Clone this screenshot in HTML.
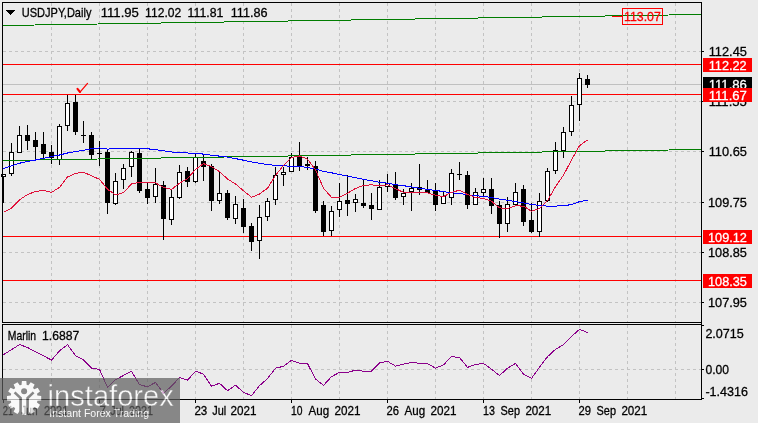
<!DOCTYPE html>
<html lang="en"><head><meta charset="utf-8"><title>USDJPY Daily</title>
<style>html,body{margin:0;padding:0;background:#ebebeb}body{width:758px;height:423px;overflow:hidden}svg{display:block}text{font-family:"Liberation Sans",Arial,sans-serif;font-size:13px;fill:#000;stroke:#000;stroke-width:.3px}text.w{fill:#fff;stroke:#fff}text.r{fill:#f00;stroke:#f00}text.n{stroke:none}</style></head><body>
<svg width="758" height="423" viewBox="0 0 758 423">
<rect width="758" height="423" fill="#ebebeb"/>
<g shape-rendering="crispEdges" stroke="#c3c3c3" stroke-width="1" stroke-dasharray="3 3" fill="none">
<path d="M51.5 3V322M51.5 325V399"/>
<path d="M99.5 3V322M99.5 325V399"/>
<path d="M147.5 3V322M147.5 325V399"/>
<path d="M195.5 3V322M195.5 325V399"/>
<path d="M243.5 3V322M243.5 325V399"/>
<path d="M291.5 3V322M291.5 325V399"/>
<path d="M339.5 3V322M339.5 325V399"/>
<path d="M387.5 3V322M387.5 325V399"/>
<path d="M435.5 3V322M435.5 325V399"/>
<path d="M483.5 3V322M483.5 325V399"/>
<path d="M531.5 3V322M531.5 325V399"/>
<path d="M579.5 3V322M579.5 325V399"/>
<path d="M627.5 3V322M627.5 325V399"/>
<path d="M675.5 3V322M675.5 325V399"/>
<path d="M3 51.5H701"/>
<path d="M3 101.5H701"/>
<path d="M3 151.5H701"/>
<path d="M3 202.5H701"/>
<path d="M3 252.5H701"/>
<path d="M3 302.5H701"/>
<path d="M3 369.5H701"/>
</g>
<g shape-rendering="crispEdges">
<rect x="3" y="84" width="698" height="1" fill="#c0c0c0"/>
</g>
<g shape-rendering="crispEdges">
<rect x="3" y="64" width="698" height="1" fill="#ff0000"/>
<rect x="3" y="94" width="698" height="1" fill="#ff0000"/>
<rect x="3" y="236" width="698" height="1" fill="#ff0000"/>
<rect x="3" y="280" width="698" height="1" fill="#ff0000"/>
<rect x="3" y="174" width="1" height="29" fill="#000"/>
<rect x="1" y="174" width="5" height="3" fill="#000"/>
<rect x="2" y="175" width="3" height="1" fill="#fff"/>
<rect x="11" y="143" width="1" height="33" fill="#000"/>
<rect x="9" y="152" width="5" height="22" fill="#000"/>
<rect x="10" y="153" width="3" height="20" fill="#fff"/>
<rect x="19" y="126" width="1" height="27" fill="#000"/>
<rect x="17" y="135" width="5" height="18" fill="#000"/>
<rect x="18" y="136" width="3" height="16" fill="#fff"/>
<rect x="27" y="125" width="1" height="25" fill="#000"/>
<rect x="25" y="135" width="5" height="6" fill="#000"/>
<rect x="35" y="132" width="1" height="28" fill="#000"/>
<rect x="33" y="140" width="5" height="7" fill="#000"/>
<rect x="43" y="132" width="1" height="27" fill="#000"/>
<rect x="41" y="144" width="5" height="10" fill="#000"/>
<rect x="51" y="145" width="1" height="19" fill="#000"/>
<rect x="49" y="152" width="5" height="6" fill="#000"/>
<rect x="59" y="124" width="1" height="41" fill="#000"/>
<rect x="57" y="126" width="5" height="34" fill="#000"/>
<rect x="58" y="127" width="3" height="32" fill="#fff"/>
<rect x="67" y="95" width="1" height="36" fill="#000"/>
<rect x="65" y="103" width="5" height="23" fill="#000"/>
<rect x="66" y="104" width="3" height="21" fill="#fff"/>
<rect x="75" y="95" width="1" height="40" fill="#000"/>
<rect x="73" y="102" width="5" height="30" fill="#000"/>
<rect x="83" y="121" width="1" height="22" fill="#000"/>
<rect x="81" y="135" width="5" height="1" fill="#000"/>
<rect x="91" y="132" width="1" height="27" fill="#000"/>
<rect x="89" y="135" width="5" height="20" fill="#000"/>
<rect x="99" y="141" width="1" height="25" fill="#000"/>
<rect x="97" y="153" width="5" height="1" fill="#000"/>
<rect x="107" y="149" width="1" height="65" fill="#000"/>
<rect x="105" y="152" width="5" height="51" fill="#000"/>
<rect x="115" y="173" width="1" height="32" fill="#000"/>
<rect x="113" y="181" width="5" height="23" fill="#000"/>
<rect x="114" y="182" width="3" height="21" fill="#fff"/>
<rect x="123" y="164" width="1" height="25" fill="#000"/>
<rect x="121" y="168" width="5" height="12" fill="#000"/>
<rect x="122" y="169" width="3" height="10" fill="#fff"/>
<rect x="131" y="151" width="1" height="26" fill="#000"/>
<rect x="129" y="152" width="5" height="15" fill="#000"/>
<rect x="130" y="153" width="3" height="13" fill="#fff"/>
<rect x="139" y="149" width="1" height="44" fill="#000"/>
<rect x="137" y="153" width="5" height="38" fill="#000"/>
<rect x="147" y="182" width="1" height="22" fill="#000"/>
<rect x="145" y="189" width="5" height="9" fill="#000"/>
<rect x="155" y="168" width="1" height="35" fill="#000"/>
<rect x="153" y="184" width="5" height="13" fill="#000"/>
<rect x="154" y="185" width="3" height="11" fill="#fff"/>
<rect x="163" y="181" width="1" height="59" fill="#000"/>
<rect x="161" y="185" width="5" height="34" fill="#000"/>
<rect x="171" y="190" width="1" height="35" fill="#000"/>
<rect x="169" y="197" width="5" height="23" fill="#000"/>
<rect x="170" y="198" width="3" height="21" fill="#fff"/>
<rect x="179" y="165" width="1" height="34" fill="#000"/>
<rect x="177" y="172" width="5" height="26" fill="#000"/>
<rect x="178" y="173" width="3" height="24" fill="#fff"/>
<rect x="187" y="167" width="1" height="20" fill="#000"/>
<rect x="185" y="171" width="5" height="11" fill="#000"/>
<rect x="195" y="154" width="1" height="29" fill="#000"/>
<rect x="193" y="157" width="5" height="25" fill="#000"/>
<rect x="194" y="158" width="3" height="23" fill="#fff"/>
<rect x="203" y="155" width="1" height="26" fill="#000"/>
<rect x="201" y="161" width="5" height="6" fill="#000"/>
<rect x="211" y="164" width="1" height="47" fill="#000"/>
<rect x="209" y="166" width="5" height="35" fill="#000"/>
<rect x="219" y="172" width="1" height="32" fill="#000"/>
<rect x="217" y="193" width="5" height="8" fill="#000"/>
<rect x="218" y="194" width="3" height="6" fill="#fff"/>
<rect x="227" y="190" width="1" height="30" fill="#000"/>
<rect x="225" y="193" width="5" height="25" fill="#000"/>
<rect x="235" y="196" width="1" height="28" fill="#000"/>
<rect x="233" y="204" width="5" height="15" fill="#000"/>
<rect x="234" y="205" width="3" height="13" fill="#fff"/>
<rect x="243" y="199" width="1" height="34" fill="#000"/>
<rect x="241" y="208" width="5" height="19" fill="#000"/>
<rect x="251" y="223" width="1" height="28" fill="#000"/>
<rect x="249" y="226" width="5" height="16" fill="#000"/>
<rect x="259" y="205" width="1" height="54" fill="#000"/>
<rect x="257" y="217" width="5" height="24" fill="#000"/>
<rect x="258" y="218" width="3" height="22" fill="#fff"/>
<rect x="267" y="198" width="1" height="23" fill="#000"/>
<rect x="265" y="201" width="5" height="16" fill="#000"/>
<rect x="266" y="202" width="3" height="14" fill="#fff"/>
<rect x="275" y="167" width="1" height="38" fill="#000"/>
<rect x="273" y="175" width="5" height="25" fill="#000"/>
<rect x="274" y="176" width="3" height="23" fill="#fff"/>
<rect x="283" y="167" width="1" height="19" fill="#000"/>
<rect x="281" y="172" width="5" height="3" fill="#000"/>
<rect x="282" y="173" width="3" height="1" fill="#fff"/>
<rect x="291" y="153" width="1" height="19" fill="#000"/>
<rect x="289" y="157" width="5" height="15" fill="#000"/>
<rect x="290" y="158" width="3" height="13" fill="#fff"/>
<rect x="299" y="142" width="1" height="29" fill="#000"/>
<rect x="297" y="157" width="5" height="9" fill="#000"/>
<rect x="307" y="157" width="1" height="13" fill="#000"/>
<rect x="305" y="164" width="5" height="2" fill="#000"/>
<rect x="315" y="161" width="1" height="52" fill="#000"/>
<rect x="313" y="166" width="5" height="45" fill="#000"/>
<rect x="323" y="201" width="1" height="35" fill="#000"/>
<rect x="321" y="205" width="5" height="27" fill="#000"/>
<rect x="331" y="206" width="1" height="30" fill="#000"/>
<rect x="329" y="211" width="5" height="20" fill="#000"/>
<rect x="330" y="212" width="3" height="18" fill="#fff"/>
<rect x="339" y="183" width="1" height="34" fill="#000"/>
<rect x="337" y="201" width="5" height="9" fill="#000"/>
<rect x="338" y="202" width="3" height="7" fill="#fff"/>
<rect x="347" y="175" width="1" height="41" fill="#000"/>
<rect x="345" y="200" width="5" height="4" fill="#000"/>
<rect x="355" y="194" width="1" height="18" fill="#000"/>
<rect x="353" y="199" width="5" height="4" fill="#000"/>
<rect x="354" y="200" width="3" height="2" fill="#fff"/>
<rect x="363" y="179" width="1" height="29" fill="#000"/>
<rect x="361" y="203" width="5" height="3" fill="#000"/>
<rect x="371" y="193" width="1" height="27" fill="#000"/>
<rect x="369" y="205" width="5" height="4" fill="#000"/>
<rect x="379" y="180" width="1" height="30" fill="#000"/>
<rect x="377" y="187" width="5" height="23" fill="#000"/>
<rect x="378" y="188" width="3" height="21" fill="#fff"/>
<rect x="387" y="174" width="1" height="18" fill="#000"/>
<rect x="385" y="183" width="5" height="4" fill="#000"/>
<rect x="386" y="184" width="3" height="2" fill="#fff"/>
<rect x="395" y="172" width="1" height="28" fill="#000"/>
<rect x="393" y="184" width="5" height="14" fill="#000"/>
<rect x="403" y="189" width="1" height="16" fill="#000"/>
<rect x="401" y="193" width="5" height="4" fill="#000"/>
<rect x="402" y="194" width="3" height="2" fill="#fff"/>
<rect x="411" y="183" width="1" height="28" fill="#000"/>
<rect x="409" y="188" width="5" height="4" fill="#000"/>
<rect x="410" y="189" width="3" height="2" fill="#fff"/>
<rect x="419" y="164" width="1" height="31" fill="#000"/>
<rect x="417" y="187" width="5" height="3" fill="#000"/>
<rect x="427" y="180" width="1" height="13" fill="#000"/>
<rect x="425" y="189" width="5" height="4" fill="#000"/>
<rect x="435" y="183" width="1" height="28" fill="#000"/>
<rect x="433" y="191" width="5" height="14" fill="#000"/>
<rect x="443" y="191" width="1" height="13" fill="#000"/>
<rect x="441" y="196" width="5" height="8" fill="#000"/>
<rect x="442" y="197" width="3" height="6" fill="#fff"/>
<rect x="451" y="169" width="1" height="36" fill="#000"/>
<rect x="449" y="173" width="5" height="25" fill="#000"/>
<rect x="450" y="174" width="3" height="23" fill="#fff"/>
<rect x="459" y="162" width="1" height="18" fill="#000"/>
<rect x="457" y="174" width="5" height="1" fill="#000"/>
<rect x="467" y="171" width="1" height="38" fill="#000"/>
<rect x="465" y="175" width="5" height="30" fill="#000"/>
<rect x="475" y="188" width="1" height="17" fill="#000"/>
<rect x="473" y="192" width="5" height="13" fill="#000"/>
<rect x="474" y="193" width="3" height="11" fill="#fff"/>
<rect x="483" y="178" width="1" height="19" fill="#000"/>
<rect x="481" y="189" width="5" height="4" fill="#000"/>
<rect x="482" y="190" width="3" height="2" fill="#fff"/>
<rect x="491" y="178" width="1" height="36" fill="#000"/>
<rect x="489" y="189" width="5" height="17" fill="#000"/>
<rect x="499" y="201" width="1" height="37" fill="#000"/>
<rect x="497" y="205" width="5" height="19" fill="#000"/>
<rect x="507" y="197" width="1" height="35" fill="#000"/>
<rect x="505" y="204" width="5" height="20" fill="#000"/>
<rect x="506" y="205" width="3" height="18" fill="#fff"/>
<rect x="515" y="183" width="1" height="22" fill="#000"/>
<rect x="513" y="192" width="5" height="13" fill="#000"/>
<rect x="514" y="193" width="3" height="11" fill="#fff"/>
<rect x="523" y="185" width="1" height="41" fill="#000"/>
<rect x="521" y="189" width="5" height="33" fill="#000"/>
<rect x="531" y="203" width="1" height="30" fill="#000"/>
<rect x="529" y="220" width="5" height="12" fill="#000"/>
<rect x="539" y="193" width="1" height="44" fill="#000"/>
<rect x="537" y="201" width="5" height="31" fill="#000"/>
<rect x="538" y="202" width="3" height="29" fill="#fff"/>
<rect x="547" y="168" width="1" height="34" fill="#000"/>
<rect x="545" y="171" width="5" height="30" fill="#000"/>
<rect x="546" y="172" width="3" height="28" fill="#fff"/>
<rect x="555" y="142" width="1" height="32" fill="#000"/>
<rect x="553" y="150" width="5" height="21" fill="#000"/>
<rect x="554" y="151" width="3" height="19" fill="#fff"/>
<rect x="563" y="127" width="1" height="31" fill="#000"/>
<rect x="561" y="132" width="5" height="19" fill="#000"/>
<rect x="562" y="133" width="3" height="17" fill="#fff"/>
<rect x="571" y="96" width="1" height="40" fill="#000"/>
<rect x="569" y="105" width="5" height="27" fill="#000"/>
<rect x="570" y="106" width="3" height="25" fill="#fff"/>
<rect x="579" y="73" width="1" height="48" fill="#000"/>
<rect x="577" y="78" width="5" height="27" fill="#000"/>
<rect x="578" y="79" width="3" height="25" fill="#fff"/>
<rect x="587" y="75" width="1" height="13" fill="#000"/>
<rect x="585" y="79" width="5" height="6" fill="#000"/>
</g>
<g stroke="#007d00" stroke-width="1" fill="none" shape-rendering="crispEdges">
<path d="M3 25.5L701 14.5"/><path d="M3 160.5L701 149.5"/>
</g>
<polyline points="3.5,168.6 11.5,165.7 19.5,163.2 27.5,161.6 35.5,160 43.5,158.3 51.5,156.6 59.5,155 67.5,153 75.5,151.6 83.5,150.3 91.5,148.8 99.5,148 107.5,149.1 115.5,148.6 123.5,148.3 131.5,148.3 139.5,148.3 147.5,148.8 155.5,149.6 163.5,150.8 171.5,152 179.5,152.5 187.5,153 195.5,153.3 203.5,154.1 211.5,155.3 219.5,156.1 227.5,157.1 235.5,158.6 243.5,160.2 251.5,162 259.5,163.3 267.5,164.6 275.5,165.4 283.5,165.8 291.5,166.3 299.5,166.6 307.5,167.4 315.5,169.1 323.5,171.3 331.5,172.8 339.5,174.6 347.5,176.1 355.5,177.7 363.5,179.3 371.5,180.8 379.5,182.4 387.5,183.2 395.5,184.6 403.5,185.7 411.5,186.9 419.5,188.2 427.5,189.4 435.5,190.4 443.5,191.6 451.5,192.9 459.5,193.2 467.5,194.9 475.5,195.7 483.5,196.4 491.5,197.4 499.5,199.1 507.5,200.3 515.5,201.6 523.5,202.9 531.5,204.6 539.5,205.4 547.5,206.1 555.5,206.1 563.5,205.7 571.5,204.6 579.5,201.6 587.5,200.3" fill="none" stroke="#0000ff" stroke-width="1" stroke-linejoin="round" shape-rendering="crispEdges"/>
<polyline points="3.5,212.4 11.5,208.2 19.5,199.9 27.5,194.5 35.5,191.5 43.5,190.5 51.5,192.4 59.5,187.4 67.5,177 75.5,173.4 83.5,172.2 91.5,175.8 99.5,179.3 107.5,189.2 115.5,195 123.5,192.5 131.5,184 139.5,182.4 147.5,182.9 155.5,182.9 163.5,187.4 171.5,189.5 179.5,183.2 187.5,178.6 195.5,169.6 203.5,163.6 211.5,166.6 219.5,171.6 227.5,179 235.5,184 243.5,190.7 251.5,197.3 259.5,194 267.5,188.2 275.5,175.5 283.5,165.4 291.5,157.6 299.5,156 307.5,159.1 315.5,169.9 323.5,188.2 331.5,197.3 339.5,197.3 347.5,193.2 355.5,188.5 363.5,185.3 371.5,184.9 379.5,185.7 387.5,184.9 395.5,188.6 403.5,192.4 411.5,192.4 419.5,192.4 427.5,192.9 435.5,195.2 443.5,196.5 451.5,192.4 459.5,190.2 467.5,194.5 475.5,197.4 483.5,198.4 491.5,201.2 499.5,207.9 507.5,208.6 515.5,205.7 523.5,206.2 531.5,211.2 539.5,208.6 547.5,200.7 555.5,186.6 563.5,175.2 571.5,159.9 579.5,145.7 587.5,139.9" fill="none" stroke="#e0103a" stroke-width="1" stroke-linejoin="round" shape-rendering="crispEdges"/>
<polyline points="3.5,354.6 11.5,349.6 19.5,344.6 27.5,347.4 35.5,351.9 43.5,355.7 51.5,360.2 59.5,350.8 67.5,344.6 75.5,355.7 83.5,359.9 91.5,368.2 99.5,369.4 107.5,387.3 115.5,379.8 123.5,375.4 131.5,371.2 139.5,384.5 147.5,386.9 155.5,382.4 163.5,393.2 171.5,386.2 179.5,377.4 187.5,380.2 195.5,371.2 203.5,374.1 211.5,386.2 219.5,383.3 227.5,390.7 235.5,385.2 243.5,392.3 251.5,395.7 259.5,385.7 267.5,378.5 275.5,368.2 283.5,366.3 291.5,360.3 299.5,363.3 307.5,363.6 315.5,379 323.5,385.4 331.5,376.6 339.5,372.4 347.5,372.4 355.5,370.2 363.5,371.2 371.5,371.2 379.5,362.9 387.5,361.3 395.5,366.1 403.5,364.1 411.5,362.4 419.5,363.3 427.5,363.6 435.5,368.2 443.5,364.9 451.5,356.6 459.5,357.5 467.5,367.4 475.5,364.4 483.5,363.4 491.5,369.2 499.5,375.5 507.5,368.2 515.5,363.4 523.5,374 531.5,378.4 539.5,367.3 547.5,356.7 555.5,349.3 563.5,344.7 571.5,336.4 579.5,329.3 587.5,332.6" fill="none" stroke="#8b008b" stroke-width="1" stroke-linejoin="round" shape-rendering="crispEdges"/>
<path d="M77.5 88.9L80 92" fill="none" stroke="#ff0000" stroke-width="2.1" stroke-linecap="round"/><path d="M80 92.1L87.5 83.4" fill="none" stroke="#ff0000" stroke-width="1.25" stroke-linecap="round"/>
<g shape-rendering="crispEdges"><rect x="612" y="16" width="10" height="1" fill="#ff0000"/><rect x="622.5" y="8.5" width="40" height="16" fill="none" stroke="#ff0000"/></g>
<text x="624.00" y="21" textLength="36.80" lengthAdjust="spacingAndGlyphs" style="fill:#ff0000;stroke:#ff0000">113.07</text>
<g shape-rendering="crispEdges" fill="#000">
<rect x="2" y="2" width="700" height="1"/><rect x="2" y="2" width="1" height="321"/><rect x="2" y="324" width="1" height="76"/><rect x="701" y="2" width="1" height="398"/>
<rect x="2" y="322" width="700" height="1"/><rect x="2" y="324" width="700" height="1"/><rect x="2" y="399" width="700" height="1"/>
<rect x="3" y="323" width="698" height="1" fill="#ebebeb"/>
<rect x="702" y="51" width="2" height="1"/>
<rect x="702" y="101" width="2" height="1"/>
<rect x="702" y="151" width="2" height="1"/>
<rect x="702" y="202" width="2" height="1"/>
<rect x="702" y="252" width="2" height="1"/>
<rect x="702" y="302" width="2" height="1"/>
<rect x="702" y="369" width="2" height="1"/>
<rect x="702" y="325" width="2" height="1"/><rect x="702" y="398" width="2" height="1"/>
<rect x="3" y="400" width="1" height="3"/>
<rect x="99" y="400" width="1" height="3"/>
<rect x="195" y="400" width="1" height="3"/>
<rect x="291" y="400" width="1" height="3"/>
<rect x="387" y="400" width="1" height="3"/>
<rect x="483" y="400" width="1" height="3"/>
<rect x="579" y="400" width="1" height="3"/>
<path d="M6 10H15L10.5 15Z"/>
</g>
<g shape-rendering="crispEdges">
<rect x="703" y="58" width="49" height="14" fill="#ff0000"/>
<rect x="703" y="77" width="49" height="14" fill="#000"/>
<rect x="703" y="88" width="49" height="14" fill="#ff0000"/>
<rect x="703" y="230" width="49" height="14" fill="#ff0000"/>
<rect x="703" y="274" width="49" height="14" fill="#ff0000"/>
</g>
<text x="708.70" y="56" textLength="38.21" lengthAdjust="spacingAndGlyphs" style="fill:#000;stroke:#000">112.45</text>
<text x="708.70" y="106" textLength="38.20" lengthAdjust="spacingAndGlyphs" style="fill:#000;stroke:#000">111.55</text>
<text x="708.70" y="89" textLength="38.20" lengthAdjust="spacingAndGlyphs" style="fill:#fff;stroke:#fff">111.86</text>
<text x="708.70" y="70" textLength="38.00" lengthAdjust="spacingAndGlyphs" style="fill:#fff;stroke:#fff">112.22</text>
<rect x="703" y="88" width="49" height="14" fill="#ff0000" shape-rendering="crispEdges"/>
<text x="708.70" y="100" textLength="38.20" lengthAdjust="spacingAndGlyphs" style="fill:#fff;stroke:#fff">111.67</text>
<text x="708.70" y="156" textLength="38.21" lengthAdjust="spacingAndGlyphs" style="fill:#000;stroke:#000">110.65</text>
<text x="708.00" y="207" textLength="38.90" lengthAdjust="spacingAndGlyphs" style="fill:#000;stroke:#000">109.75</text>
<text x="708.00" y="257" textLength="38.90" lengthAdjust="spacingAndGlyphs" style="fill:#000;stroke:#000">108.85</text>
<text x="708.00" y="307" textLength="38.90" lengthAdjust="spacingAndGlyphs" style="fill:#000;stroke:#000">107.95</text>
<text x="708.00" y="242" textLength="38.90" lengthAdjust="spacingAndGlyphs" style="fill:#fff;stroke:#fff">109.12</text>
<text x="708.00" y="286" textLength="38.90" lengthAdjust="spacingAndGlyphs" style="fill:#fff;stroke:#fff">108.35</text>
<text x="705.40" y="338" textLength="38.40" lengthAdjust="spacingAndGlyphs" style="fill:#000;stroke:#000">2.0715</text>
<text x="705.40" y="374" textLength="23.60" lengthAdjust="spacingAndGlyphs" style="fill:#000;stroke:#000">0.00</text>
<text x="705.40" y="396" textLength="42.60" lengthAdjust="spacingAndGlyphs" style="fill:#000;stroke:#000">-1.4316</text>
<text y="17" style="fill:#000;stroke:#000"><tspan x="21.80" textLength="69.60" lengthAdjust="spacingAndGlyphs">USDJPY,Daily</tspan> <tspan x="100.70" textLength="38.20" lengthAdjust="spacingAndGlyphs">111.95</tspan> <tspan x="145.10" textLength="36.10" lengthAdjust="spacingAndGlyphs">112.02</tspan> <tspan x="187.60" textLength="35.70" lengthAdjust="spacingAndGlyphs">111.81</tspan> <tspan x="230.70" textLength="36.90" lengthAdjust="spacingAndGlyphs">111.86</tspan></text>
<text y="340" style="fill:#000;stroke:#000"><tspan x="7.80" textLength="28.30" lengthAdjust="spacingAndGlyphs">Marlin</tspan> <tspan x="42.00" textLength="37.20" lengthAdjust="spacingAndGlyphs">1.6887</tspan></text>
<text y="415" style="fill:#000;stroke:#000"><tspan x="2.80" textLength="10.40" lengthAdjust="spacingAndGlyphs">21</tspan> <tspan x="21.30" textLength="16.30" lengthAdjust="spacingAndGlyphs">Jun</tspan> <tspan x="43.90" textLength="24.40" lengthAdjust="spacingAndGlyphs">2021</tspan></text>
<text y="415" style="fill:#000;stroke:#000"><tspan x="99.60" textLength="6.40" lengthAdjust="spacingAndGlyphs">7</tspan> <tspan x="110.30" textLength="13.70" lengthAdjust="spacingAndGlyphs">Jul</tspan> <tspan x="129.00" textLength="23.90" lengthAdjust="spacingAndGlyphs">2021</tspan></text>
<text y="415" style="fill:#000;stroke:#000"><tspan x="194.40" textLength="12.90" lengthAdjust="spacingAndGlyphs">23</tspan> <tspan x="212.30" textLength="14.00" lengthAdjust="spacingAndGlyphs">Jul</tspan> <tspan x="230.40" textLength="26.00" lengthAdjust="spacingAndGlyphs">2021</tspan></text>
<text y="415" style="fill:#000;stroke:#000"><tspan x="291.00" textLength="11.50" lengthAdjust="spacingAndGlyphs">10</tspan> <tspan x="308.60" textLength="20.60" lengthAdjust="spacingAndGlyphs">Aug</tspan> <tspan x="334.60" textLength="26.00" lengthAdjust="spacingAndGlyphs">2021</tspan></text>
<text y="415" style="fill:#000;stroke:#000"><tspan x="386.40" textLength="12.50" lengthAdjust="spacingAndGlyphs">26</tspan> <tspan x="404.60" textLength="20.60" lengthAdjust="spacingAndGlyphs">Aug</tspan> <tspan x="430.60" textLength="26.00" lengthAdjust="spacingAndGlyphs">2021</tspan></text>
<text y="415" style="fill:#000;stroke:#000"><tspan x="483.00" textLength="11.90" lengthAdjust="spacingAndGlyphs">13</tspan> <tspan x="500.60" textLength="19.40" lengthAdjust="spacingAndGlyphs">Sep</tspan> <tspan x="525.40" textLength="25.90" lengthAdjust="spacingAndGlyphs">2021</tspan></text>
<text y="415" style="fill:#000;stroke:#000"><tspan x="578.40" textLength="12.50" lengthAdjust="spacingAndGlyphs">29</tspan> <tspan x="596.60" textLength="19.40" lengthAdjust="spacingAndGlyphs">Sep</tspan> <tspan x="621.40" textLength="25.90" lengthAdjust="spacingAndGlyphs">2021</tspan></text>
<g opacity="0.7">
<rect x="0" y="378" width="180" height="45" fill="#5e5e5e"/>
<g><clipPath id="gc"><rect x="0" y="378" width="60" height="37"/></clipPath>
<g clip-path="url(#gc)"><path d="M21.5 384.9L21.9 381.1L26.3 381.1L26.7 384.9L28.5 385.3L30.7 382.3L34.6 384.6L33.0 388.0L34.3 389.3L37.7 387.7L40.0 391.6L37.0 393.8L37.4 395.6L41.2 396.0L41.2 400.4L37.4 400.8L37.0 402.6L40.0 404.8L37.7 408.7L34.3 407.1L33.0 408.4L34.6 411.8L30.7 414.1L28.5 411.1L26.7 411.5L26.3 415.3L21.9 415.3L21.5 411.5L19.7 411.1L17.5 414.1L13.6 411.8L15.2 408.4L13.9 407.1L10.5 408.7L8.2 404.8L11.2 402.6L10.8 400.8L7.0 400.4L7.0 396.0L10.8 395.6L11.2 393.8L8.2 391.6L10.5 387.7L13.9 389.3L15.2 388.0L13.6 384.6L17.5 382.3L19.7 385.3Z" fill="#fff"/>
<circle cx="24.1" cy="391.2" r="3" fill="#5e5e5e"/>
<path d="M14.6 392.4L20.6 398V416M33.6 392.4L27.6 398V416" fill="none" stroke="#5e5e5e" stroke-width="2.6"/>
</g></g>
<text x="47.60" y="406" textLength="126.21" lengthAdjust="spacingAndGlyphs" style="fill:#fff;stroke:#5e5e5e;stroke-width:.45px;font-size:30px">instaforex</text>
<text x="49.30" y="417" textLength="99.70" lengthAdjust="spacingAndGlyphs" style="fill:#fff;stroke:none;font-size:10.5px">Instant Forex Trading</text>
</g>
</svg></body></html>
